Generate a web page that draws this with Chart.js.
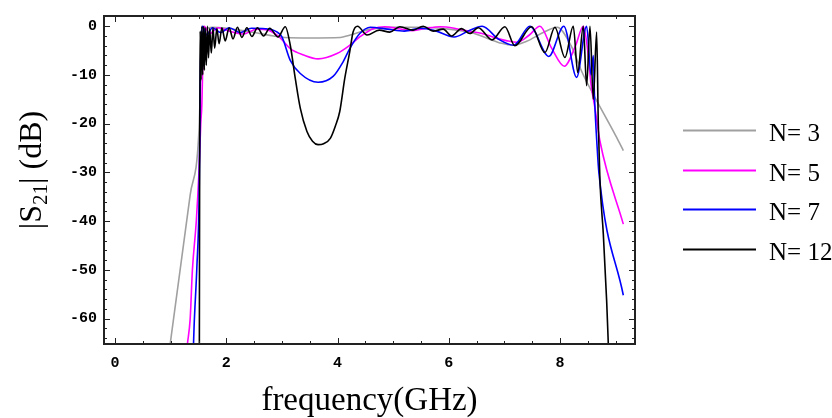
<!DOCTYPE html>
<html><head><meta charset="utf-8">
<script src="https://cdn.jsdelivr.net/npm/chart.js@4.4.1/dist/chart.umd.min.js"></script>
<style>html,body{margin:0;padding:0;background:#fff;}#wrap{width:832px;height:418px;}</style>
</head><body><div id="wrap"><canvas id="c" width="832" height="418"></canvas></div>
<script>
const seriesLabels = ['N= 3', 'N= 5', 'N= 7', 'N= 12'];
const seriesColors = ['#a0a0a0', '#ff00ff', '#0000ff', '#000000'];

const freqN3 = [0.99,1.35,1.51,1.54,1.57,1.62,1.75,2.0,2.3,2.6,2.85,3.05,3.5,4.05,4.2,4.4,4.6,5.0,5.5,6.0,6.4,6.7,6.95,7.15,7.4,7.7,7.95,8.2,8.4,8.6,8.8,9.0,9.14];
const s21N3  = [-65.2,-34.6,-21,-10,-3,-0.8,-0.2,-0.4,-0.9,-1.5,-2.0,-2.3,-2.4,-2.3,-1.9,-1.2,-0.6,-0.2,-0.2,-0.6,-1.3,-2.5,-3.5,-3.9,-3.1,-1.3,-0.2,-4,-9.5,-14,-18.2,-22.4,-25.5];

const freqN5 = [1.30,1.35,1.39,1.46,1.51,1.54,1.56,1.58,1.6,1.7,1.85,2.05,2.3,2.55,2.75,2.95,3.15,3.39,3.65,3.99,4.22,4.4,4.64,4.85,5.1,5.35,5.6,5.85,6.1,6.35,6.6,6.85,7.05,7.23,7.45,7.64,7.85,8.08,8.28,8.42,8.5,8.56,8.63,8.72,9.14];
const s21N5  = [-65.2,-60,-50,-40,-29.4,-20,-16,-6,0,-1.5,-0.3,-1.0,-1.6,-0.6,-0.8,-2.2,-4.6,-5.9,-6.7,-5.6,-3.9,-2.2,-0.5,-0.1,-0.5,-0.9,-0.4,-0.1,-0.4,-1.0,-1.5,-2.4,-3.0,-3.3,-1.8,0,-4.5,-8.2,-4,0,-5,-12,-16.8,-23.6,-40.6];

const freqN7 = [1.41,1.42,1.47,1.51,1.525,1.53,1.55,1.57,1.65,1.75,1.9,2.05,2.25,2.45,2.7,2.9,3.0,3.15,3.33,3.65,3.92,4.1,4.22,4.4,4.59,4.9,5.2,5.5,5.75,6.1,6.35,6.6,6.9,7.17,7.46,7.8,8.07,8.3,8.48,8.56,8.6,8.62,8.67,8.7,9.14];
const s21N7  = [-65.2,-61.7,-49.5,-35.8,-20,-12,-3,0,-1.8,-0.3,-1.3,-0.3,-1.3,-0.4,-0.5,-1.1,-2.2,-7,-9.7,-11.5,-10.3,-7.3,-4.6,-1.5,-0.2,-0.6,-1.0,-0.4,-0.9,-2.2,-1.0,0,-2.7,-3.9,0,-6.2,0,-10.5,0,-10,-6,-14,-25,-30,-55.2];

const freqN12 = [1.515,1.52,1.525,1.53,1.545,1.56,1.575,1.59,1.605,1.62,1.64,1.66,1.68,1.7,1.73,1.76,1.79,1.83,1.87,1.92,1.98,2.05,2.12,2.2,2.28,2.37,2.46,2.56,2.67,2.78,2.93,3.06,3.15,3.24,3.33,3.45,3.55,3.65,3.75,3.87,3.96,4.04,4.13,4.22,4.28,4.36,4.53,4.75,4.94,5.12,5.36,5.54,5.72,5.9,6.05,6.23,6.38,6.53,6.78,7.01,7.19,7.49,7.73,7.91,8.09,8.24,8.32,8.42,8.48,8.54,8.6,8.66,8.69,8.72,8.78,8.84,8.87];
const s21N12  = [-65.2,-30,-15,-1,-11,0,-10,0,-9,-0.3,-8,0,-6.5,-0.5,-5.5,-0.3,-4.5,-0.5,-3.6,-0.3,-3,-0.3,-2.6,-0.2,-2.3,-0.3,-2.1,-0.3,-2.0,-0.4,-2.2,-0.1,-3.9,-10.7,-16.8,-21.6,-23.6,-24.3,-24.1,-23,-20.5,-17.5,-10.7,-5.2,-1.2,0,-1.8,-0.8,-1.2,-0.1,-0.8,0,-1.0,-0.6,-2.0,-0.5,-1.5,-0.3,-2.8,-0.1,-4.0,-0.1,-5.4,-0.2,-6.4,0,-9.5,0,-12.2,0,-15,-1.2,-20,-31.8,-42.6,-56.3,-65.2];

const xTickLabels = [0, 2, 4, 6, 8];
const yTickLabels = [-60, -50, -40, -30, -20, -10, 0];
const xTitle = 'frequency(GHz)';
const yTitleParts = ['|S', '21', '| (dB)'];

function pts(xs, ys) { return xs.map((v, i) => ({ x: v, y: ys[i] })); }

const framePlugin = {
  id: 'frame',
  afterDatasetsDraw(chart) {
    const { ctx, chartArea: a, scales: { x, y } } = chart;
    ctx.save();
    ctx.strokeStyle = '#222';
    ctx.lineWidth = 1;
    ctx.beginPath();
    for (let v = Math.ceil(x.min / 0.5) * 0.5; v <= x.max + 1e-9; v += 0.5) {
      const px = Math.round(x.getPixelForValue(v)) + 0.5;
      const major = xTickLabels.some(t => Math.abs(t - v) < 1e-6);
      const L = major ? 6 : 3;
      ctx.moveTo(px, a.bottom); ctx.lineTo(px, a.bottom - L);
      ctx.moveTo(px, a.top); ctx.lineTo(px, a.top + L);
    }
    for (let v = Math.ceil(y.min / 2) * 2; v <= y.max + 1e-9; v += 2) {
      const py = Math.round(y.getPixelForValue(v)) + 0.5;
      const major = yTickLabels.some(t => Math.abs(t - v) < 1e-6);
      const L = major ? 6 : 3;
      ctx.moveTo(a.left, py); ctx.lineTo(a.left + L, py);
      ctx.moveTo(a.right, py); ctx.lineTo(a.right - L, py);
    }
    ctx.stroke();
    ctx.lineWidth = 2;
    ctx.strokeRect(a.left, a.top, a.right - a.left, a.bottom - a.top);
    ctx.restore();
  },
  afterDraw(chart) {
    const { ctx, chartArea: a } = chart;
    ctx.save();
    const big = '32px "Liberation Serif"', small = '21px "Liberation Serif"';
    const fonts = [big, small, big];
    const shifts = [0, 6, 0];
    let total = 0; const widths = [];
    yTitleParts.forEach((t, i) => { ctx.font = fonts[i]; const w = ctx.measureText(t).width; widths.push(w); total += w; });
    ctx.translate(a.left - 63, (a.top + a.bottom) / 2 - 10);
    ctx.rotate(-Math.PI / 2);
    ctx.fillStyle = '#000';
    ctx.textBaseline = 'alphabetic';
    ctx.textAlign = 'left';
    let xx = -total / 2;
    yTitleParts.forEach((t, i) => { ctx.font = fonts[i]; ctx.fillText(t, xx, shifts[i]); xx += widths[i]; });
    ctx.restore();
    ctx.save();
    chart.data.datasets.forEach((ds, i) => {
      const ly = Math.round(a.top + 114 + i * 39.7) + 0.5;
      ctx.strokeStyle = ds.borderColor;
      ctx.lineWidth = 2;
      ctx.beginPath(); ctx.moveTo(a.right + 48, ly); ctx.lineTo(a.right + 121, ly); ctx.stroke();
      ctx.fillStyle = '#000';
      ctx.font = '25px "Liberation Serif"';
      ctx.textBaseline = 'alphabetic';
      ctx.textAlign = 'left';
      ctx.fillText(ds.label, a.right + 134, ly + 10);
    });
    ctx.restore();
  }
};

const allX = [freqN3, freqN5, freqN7, freqN12];
const allY = [s21N3, s21N5, s21N7, s21N12];

new Chart(document.getElementById('c'), {
  type: 'line',
  data: {
    datasets: seriesLabels.map((lab, i) => ({
      label: lab,
      data: pts(allX[i], allY[i]),
      borderColor: seriesColors[i],
      backgroundColor: seriesColors[i],
      borderWidth: 1.6,
      pointRadius: 0,
      fill: false,
      cubicInterpolationMode: 'monotone',
      order: 4 - i
    }))
  },
  options: {
    responsive: false,
    animation: false,
    devicePixelRatio: 1,
    layout: { padding: { top: 14, right: 197, left: 0, bottom: 0 } },
    plugins: { legend: { display: false }, tooltip: { enabled: false } },
    scales: {
      x: {
        type: 'linear', min: -0.2, max: 9.35,
        afterBuildTicks: s => { s.ticks = xTickLabels.map(v => ({ value: v })); },
        afterFit: s => { s.height = 74; },
        grid: { display: false, drawTicks: false },
        border: { display: false },
        ticks: { font: { family: 'Liberation Mono', weight: 'bold', size: 15 }, color: '#000', padding: 10, maxRotation: 0, autoSkip: false },
        title: { display: true, text: xTitle, color: '#000', padding: 0, font: { family: 'Liberation Serif', size: 33, lineHeight: 1 } }
      },
      y: {
        type: 'linear', min: -65.2, max: 2.1,
        afterBuildTicks: s => { s.ticks = yTickLabels.map(v => ({ value: v })); },
        afterFit: s => { s.width = 104; },
        grid: { display: false, drawTicks: false },
        border: { display: false },
        ticks: { font: { family: 'Liberation Mono', weight: 'bold', size: 15 }, color: '#000', padding: 7, autoSkip: false }
      }
    }
  },
  plugins: [framePlugin]
});
</script>
</body></html>
